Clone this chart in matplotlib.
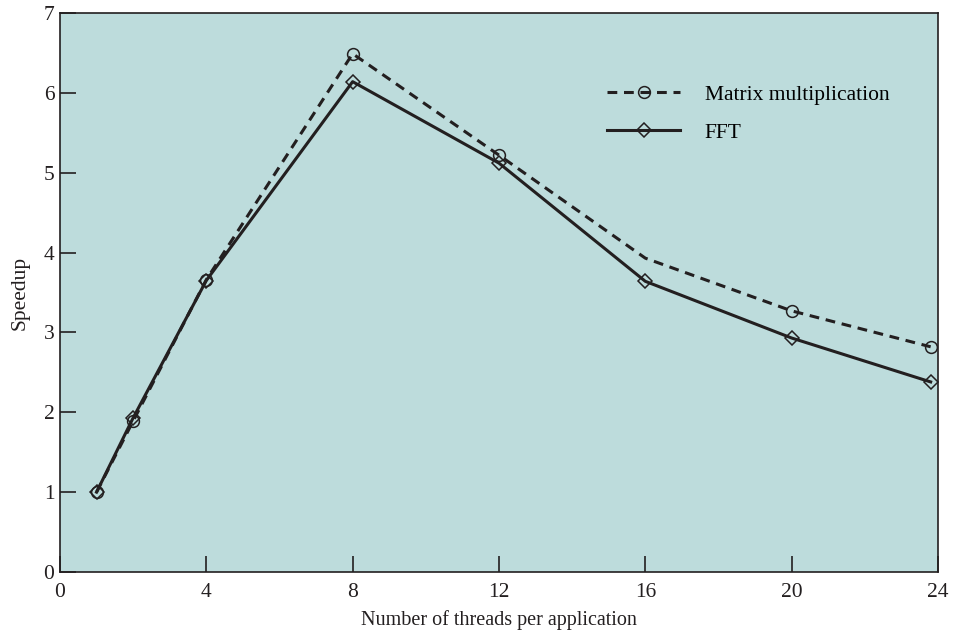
import matplotlib
matplotlib.use('Agg')
import matplotlib.pyplot as plt

plt.rcParams['font.family'] = ['Liberation Serif', 'DejaVu Serif']

threads = [1, 2, 4, 8, 12, 16, 20, 23.8]
matrix = [1.0, 1.89, 3.66, 6.49, 5.22, 3.93, 3.27, 2.82]
fft = [1.0, 1.93, 3.65, 6.14, 5.12, 3.64, 2.93, 2.38]

xticks = [0, 4, 8, 12, 16, 20, 24]
yticks = [0, 1, 2, 3, 4, 5, 6, 7]

ink = '#231f20'

fig = plt.figure(figsize=(9.58, 6.34), dpi=100)
ax = fig.add_axes([0.0626, 0.0978, 0.9165, 0.8817])
ax.set_facecolor('#bddcdc')

# matrix line has no marker at 16 threads in the original
ax.plot(threads, matrix, color=ink, lw=2.2, ls=(0, (3.2, 2.2)),
        marker='o', ms=8.5, mfc='none', mec=ink, mew=1.1,
        markevery=[0, 1, 2, 3, 4, 6, 7], label='Matrix multiplication')
ax.plot(threads, fft, color=ink, lw=2.2,
        marker='D', ms=7.5, mfc='none', mec=ink, mew=1.1, label='FFT')

ax.set_xlim(0, 24)
ax.set_ylim(0, 7)
ax.set_xticks(xticks)
ax.set_yticks(yticks)
ax.tick_params(direction='in', length=11.5, width=1.2, labelsize=15.5,
               color=ink, labelcolor=ink)
ax.tick_params(axis='x', pad=8)
ax.tick_params(axis='y', pad=4)
for s in ax.spines.values():
    s.set_linewidth(1.2)
    s.set_color(ink)

ax.set_xlabel('Number of threads per application', fontsize=14.5, color=ink, labelpad=6)
ax.set_ylabel('Speedup', fontsize=15.5, color=ink, labelpad=10)

ax.legend(loc='upper left', bbox_to_anchor=(0.623, 0.872), frameon=False,
          borderpad=0, borderaxespad=0,
          fontsize=15.5, handlelength=3.4, handletextpad=1.15, labelspacing=0.85)

plt.savefig('out.png', dpi=100)
